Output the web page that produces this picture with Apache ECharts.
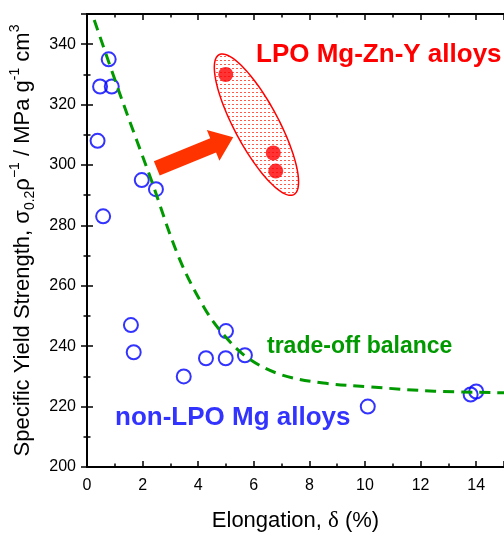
<!DOCTYPE html>
<html><head><meta charset="utf-8">
<script src="https://cdn.jsdelivr.net/npm/echarts@6/dist/echarts.min.js"></script>
<style>html,body{margin:0;padding:0;background:#fff}#c{width:504px;height:537px}</style>
</head><body><div id="c"></div>
<script>
// ---- data ----
const xTickValues = [0, 2, 4, 6, 8, 10, 12, 14];
const yTickValues = [200, 220, 240, 260, 280, 300, 320, 340];
const nonLpoX = [0.78, 0.47, 0.89, 0.38, 0.58, 1.97, 2.48, 1.58, 1.68, 3.48, 4.28, 4.99, 5.00, 5.68, 10.1, 13.8, 14.0];
const nonLpoY = [335, 326, 326, 308, 283, 295, 292, 247, 238, 230, 236, 236, 245, 237, 220, 224, 225];
const lpoX = [4.99, 6.70, 6.79];
const lpoY = [330, 304, 298];
const curveX = [0.26, 1.3, 2.29, 3.3, 4.2, 4.9, 5.8, 7.0, 8.5, 10.2, 12.5, 15];
const curveY = [348, 320.5, 295.6, 269.5, 253, 244, 236, 230.5, 227.8, 226.5, 225.1, 224.6];
// annotation anchors (data units)
const ellipseEnds = [4.75, 336.5, 7.44, 290.2];
const arrowEnds = [2.51, 298.9, 5.26, 309.2];

const FONT = '"Liberation Sans", Arial, Helvetica, sans-serif';

// hatch pattern
const pc = document.createElement('canvas');
pc.width = 4; pc.height = 4;
const pctx = pc.getContext('2d');
pctx.fillStyle = 'rgba(255,50,30,0.8)';
pctx.fillRect(0, 0, 2, 1);

const chart = echarts.init(document.getElementById('c'), null, {renderer: 'canvas'});

const axisLineStyle = {show: true, lineStyle: {color: '#000', width: 2}};
function xAx(pos, labels) {
  return {
    type: 'value', position: pos, min: 0, max: 15, interval: 2,
    axisLine: axisLineStyle,
    axisTick: {show: true, inside: true, length: 6, lineStyle: {color: '#000', width: 1.5}},
    minorTick: {show: true, splitNumber: 2, length: 3.5, lineStyle: {color: '#000', width: 1.5}},
    splitLine: {show: false},
    axisLabel: {show: labels, margin: 11, fontSize: 16, color: '#000', fontFamily: FONT,
      showMaxLabel: false, formatter: v => xTickValues.includes(v) ? String(v) : ''}
  };
}
function yAx(pos, labels) {
  return {
    type: 'value', position: pos, min: 200, max: 350, interval: 20,
    axisLine: axisLineStyle,
    axisTick: {show: true, inside: true, length: 6, lineStyle: {color: '#000', width: 1.5}},
    minorTick: {show: true, splitNumber: 2, length: 3.5, lineStyle: {color: '#000', width: 1.5}},
    splitLine: {show: false},
    axisLabel: {show: labels, margin: 11, fontSize: 16, color: '#000', fontFamily: FONT,
      showMaxLabel: false, formatter: v => yTickValues.includes(v) ? String(v) : ''}
  };
}

const xb = xAx('bottom', true);
xb.name = '{a|Elongation, }{d|δ}{a| (%)}';
xb.nameLocation = 'middle';
xb.nameGap = 42;
xb.nameTextStyle = {rich: {
  a: {fontSize: 22, fontFamily: FONT, color: '#000'},
  d: {fontSize: 23, fontFamily: '"Liberation Serif", "Times New Roman", serif', color: '#000'}
}};
const yl = yAx('left', true);
yl.name = '{a|Specific Yield Strength, σ}{sub|0.2}{a|ρ}{sup|−1}{a| / MPa g}{sup|-1}{a| cm}{sup|3}';
yl.nameLocation = 'middle';
yl.nameRotate = 90;
yl.nameGap = 50;
yl.nameTextStyle = {rich: {
  a: {fontSize: 22, lineHeight: 29, verticalAlign: 'middle', fontFamily: FONT, color: '#000'},
  sub: {fontSize: 14, lineHeight: 13, verticalAlign: 'bottom', fontFamily: FONT, color: '#000'},
  sup: {fontSize: 14, lineHeight: 15, verticalAlign: 'top', fontFamily: FONT, color: '#000'}
}};

function ellipseRender(params, api) {
  const p1 = api.coord([api.value(0), api.value(1)]);
  const p2 = api.coord([api.value(2), api.value(3)]);
  const cx = (p1[0] + p2[0]) / 2, cy = (p1[1] + p2[1]) / 2;
  const dx = p2[0] - p1[0], dy = p2[1] - p1[1];
  const a = Math.sqrt(dx * dx + dy * dy) / 2, b = 22;
  const ang = Math.atan2(dy, dx), c = Math.cos(ang), s = Math.sin(ang);
  const pts = [];
  for (let i = 0; i < 120; i++) {
    const t = i / 120 * Math.PI * 2;
    const u = a * Math.cos(t), v = b * Math.sin(t);
    pts.push([cx + u * c - v * s, cy + u * s + v * c]);
  }
  return {type: 'polygon', shape: {points: pts},
    style: {fill: {image: pc, repeat: 'repeat'}, stroke: '#ff0000', lineWidth: 1.5}};
}
function arrowRender(params, api) {
  const p1 = api.coord([api.value(0), api.value(1)]);
  const p2 = api.coord([api.value(2), api.value(3)]);
  const dx = p2[0] - p1[0], dy = p2[1] - p1[1];
  const L = Math.sqrt(dx * dx + dy * dy);
  const ux = dx / L, uy = dy / L, nx = -uy, ny = ux;
  const sw = 7.75, hw = 16.7, hl = 21.7;
  const bx = p2[0] - ux * hl, by = p2[1] - uy * hl;
  const pts = [
    [p1[0] + nx * sw, p1[1] + ny * sw],
    [bx + nx * sw, by + ny * sw],
    [bx + nx * hw, by + ny * hw],
    [p2[0], p2[1]],
    [bx - nx * hw, by - ny * hw],
    [bx - nx * sw, by - ny * sw],
    [p1[0] - nx * sw, p1[1] - ny * sw]
  ];
  return {type: 'polygon', shape: {points: pts}, style: {fill: '#ff3300'}};
}

chart.setOption({
  animation: false,
  backgroundColor: '#fff',
  grid: {left: 86, top: 14, right: -3, bottom: 64},
  xAxis: [xb, xAx('top', false)],
  yAxis: [yl, yAx('right', false)],
  series: [
    {type: 'custom', renderItem: ellipseRender, data: [ellipseEnds], z: 1, silent: true, clip: false},
    {type: 'custom', renderItem: arrowRender, data: [arrowEnds], z: 2, silent: true, clip: false},
    {type: 'scatter', data: nonLpoX.map((x, i) => [x, nonLpoY[i]]), symbol: 'circle', symbolSize: 14,
      itemStyle: {color: 'rgba(0,0,0,0)', borderColor: '#0000ff', borderWidth: 2}, z: 3},
    {type: 'scatter', data: lpoX.map((x, i) => [x, lpoY[i]]), symbol: 'circle', symbolSize: 15,
      itemStyle: {color: '#ff0000'}, z: 3},
    {type: 'line', data: curveX.map((x, i) => [x, curveY[i]]), smooth: 0.35,
      showSymbol: false, symbol: 'none', lineStyle: {color: '#009900', width: 3, type: [11, 7]}, z: 4}
  ],
  graphic: [
    {type: 'text', x: 256, y: 55, z: 10, style: {text: 'LPO Mg-Zn-Y alloys', fill: '#ff0000',
      font: 'bold 26px ' + FONT, verticalAlign: 'middle'}},
    {type: 'text', x: 115, y: 418, z: 10, style: {text: 'non-LPO Mg alloys', fill: '#3333ff',
      font: 'bold 26px ' + FONT, verticalAlign: 'middle'}},
    {type: 'text', x: 267, y: 347, z: 10, style: {text: 'trade-off balance', fill: '#009900',
      font: 'bold 23px ' + FONT, verticalAlign: 'middle'}}
  ]
});
</script></body></html>
